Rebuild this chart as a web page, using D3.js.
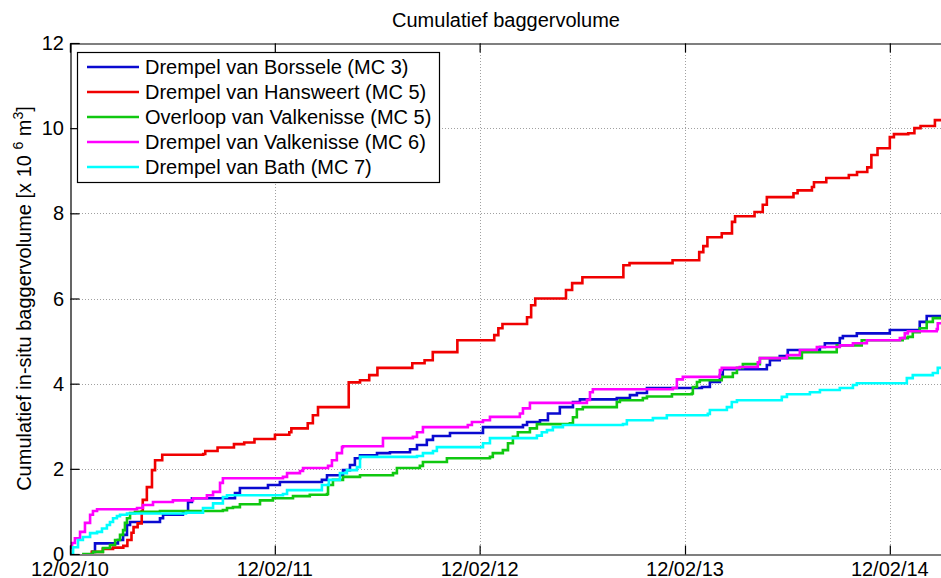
<!DOCTYPE html>
<html lang="nl">
<head>
<meta charset="utf-8">
<title>Cumulatief baggervolume</title>
<script src="https://cdn.jsdelivr.net/npm/d3@7"></script>
<style>
  body { margin: 0; background: #fff; }
  svg { font-family: Arial, "Liberation Sans", sans-serif; }
</style>
</head>
<body>
<script>
// start of the record, tick dates and y ticks
var startDate = new Date(2010, 1, 12);
var xTicks = [new Date(2010, 1, 12), new Date(2011, 1, 12), new Date(2012, 1, 12), new Date(2013, 1, 12), new Date(2014, 1, 12)];
var yTicks = [0, 2, 4, 6, 8, 10, 12];

var names = ["Drempel van Borssele (MC 3)", "Drempel van Hansweert (MC 5)", "Overloop van Valkenisse (MC 5)",
             "Drempel van Valkenisse (MC 6)", "Drempel van Bath (MC 7)"];
var colors = ["#0a0ad0", "#f00000", "#10c810", "#ff00ff", "#00ffff"];

// [years since 12/02/10, cumulative volume x 10^6 m3]
var borssele = [[0.10,0],[0.11,0.05],[0.122,0.25],[0.234,0.33],[0.259,0.45],[0.278,0.68],[0.293,0.75],[0.439,0.84],
  [0.454,0.92],[0.551,0.99],[0.576,1.22],[0.595,1.31],[0.805,1.43],[0.829,1.55],[0.966,1.62],[1.024,1.69],[1.229,1.74],
  [1.254,1.85],[1.332,1.97],[1.366,2.09],[1.39,2.25],[1.415,2.32],[1.498,2.37],[1.561,2.39],[1.659,2.46],[1.693,2.56],
  [1.741,2.68],[1.771,2.77],[1.854,2.84],[2.015,2.98],[2.21,3.03],[2.23,3.10],[2.293,3.14],[2.332,3.3],[2.39,3.45],
  [2.454,3.57],[2.488,3.63],[2.668,3.66],[2.732,3.73],[2.766,3.78],[2.815,3.9],[3.083,3.92],[3.122,4.04],[3.171,4.2],
  [3.185,4.34],[3.40,4.44],[3.415,4.55],[3.463,4.65],[3.502,4.79],[3.659,4.86],[3.683,4.95],[3.756,5.07],[3.771,5.12],
  [3.839,5.18],[4.0,5.26],[4.146,5.45],[4.18,5.59],[4.26,5.61]];
var hansweert = [[0.10,0.05],[0.16,0.12],[0.21,0.15],[0.26,0.19],[0.28,0.33],[0.30,0.5],[0.31,0.63],[0.33,0.72],
  [0.35,1.0],[0.355,1.27],[0.375,1.57],[0.40,1.97],[0.415,2.2],[0.45,2.33],[0.65,2.35],[0.66,2.42],[0.72,2.5],[0.80,2.58],
  [0.85,2.62],[0.90,2.7],[1.0,2.8],[1.07,2.86],[1.08,2.95],[1.16,3.07],[1.185,3.26],[1.21,3.45],[1.36,4.03],[1.415,4.08],
  [1.46,4.2],[1.50,4.37],[1.67,4.48],[1.73,4.55],[1.77,4.74],[1.89,5.02],[2.07,5.14],[2.09,5.3],[2.11,5.4],[2.23,5.56],
  [2.25,5.84],[2.27,6.0],[2.42,6.2],[2.45,6.36],[2.50,6.5],[2.70,6.78],[2.73,6.83],[2.94,6.9],[3.07,7.09],[3.09,7.23],
  [3.11,7.44],[3.18,7.53],[3.23,7.8],[3.245,7.93],[3.34,8.03],[3.38,8.2],[3.40,8.38],[3.53,8.47],[3.55,8.54],[3.62,8.62],
  [3.63,8.73],[3.69,8.83],[3.80,8.9],[3.84,8.97],[3.89,9.08],[3.91,9.37],[3.94,9.53],[4.0,9.79],[4.02,9.86],[4.09,9.88],
  [4.12,10.0],[4.15,10.05],[4.22,10.19],[4.26,10.2]];
var overloop = [[0.059,0],[0.112,0.05],[0.161,0.14],[0.195,0.21],[0.22,0.33],[0.244,0.45],[0.259,0.56],[0.268,0.73],
  [0.278,0.84],[0.293,0.96],[0.317,0.99],[0.439,1.01],[0.746,1.03],[0.766,1.08],[0.795,1.1],[0.829,1.17],[0.927,1.26],
  [0.99,1.31],[1.088,1.36],[1.17,1.39],[1.254,1.41],[1.259,1.62],[1.283,1.74],[1.332,1.81],[1.415,1.85],[1.576,1.9],
  [1.595,2.02],[1.707,2.07],[1.722,2.16],[1.839,2.25],[2.049,2.28],[2.063,2.37],[2.112,2.44],[2.137,2.6],[2.161,2.75],
  [2.185,2.86],[2.244,2.95],[2.278,3.05],[2.439,3.07],[2.454,3.21],[2.473,3.4],[2.502,3.45],[2.668,3.57],[2.683,3.61],
  [2.795,3.66],[2.815,3.7],[2.937,3.75],[3.034,3.77],[3.039,3.92],[3.059,4.04],[3.073,4.08],[3.18,4.16],[3.234,4.25],
  [3.254,4.37],[3.283,4.46],[3.366,4.6],[3.571,4.74],[3.741,4.9],[3.863,5.02],[4.063,5.07],[4.088,5.1],[4.112,5.21],
  [4.146,5.3],[4.18,5.45],[4.21,5.54],[4.26,5.55]];
var valkenisse = [[0.0,0.15],[0.01,0.26],[0.024,0.37],[0.049,0.52],[0.073,0.73],[0.098,0.92],[0.112,1.01],[0.132,1.05],
  [0.327,1.08],[0.356,1.15],[0.405,1.22],[0.502,1.26],[0.6,1.31],[0.668,1.38],[0.698,1.46],[0.732,1.67],[0.746,1.78],
  [1.039,1.81],[1.059,1.9],[1.122,1.95],[1.137,2.02],[1.259,2.07],[1.278,2.2],[1.302,2.37],[1.327,2.51],[1.332,2.53],
  [1.527,2.72],[1.673,2.75],[1.693,2.86],[1.722,2.98],[1.941,3.03],[1.961,3.1],[2.015,3.14],[2.049,3.22],[2.195,3.3],
  [2.21,3.42],[2.244,3.55],[2.522,3.62],[2.537,3.8],[2.551,3.87],[2.941,3.9],[2.961,4.1],[2.99,4.16],[3.171,4.32],
  [3.18,4.37],[3.268,4.39],[3.356,4.5],[3.366,4.6],[3.498,4.67],[3.561,4.79],[3.644,4.86],[3.756,4.9],[3.82,4.95],
  [3.888,5.02],[4.049,5.07],[4.073,5.18],[4.088,5.23],[4.229,5.28],[4.234,5.42],[4.26,5.42]];
var bath = [[0.0,0.0],[0.015,0.16],[0.039,0.33],[0.063,0.40],[0.098,0.49],[0.132,0.52],[0.156,0.6],[0.18,0.68],
  [0.195,0.75],[0.210,0.84],[0.229,0.89],[0.244,0.92],[0.278,0.95],[0.566,0.97],[0.649,1.08],[0.698,1.19],[0.746,1.34],
  [0.766,1.38],[1.039,1.41],[1.059,1.5],[1.229,1.62],[1.263,1.74],[1.317,1.9],[1.351,1.97],[1.4,2.04],[1.415,2.28],
  [1.693,2.3],[1.722,2.37],[1.771,2.42],[1.79,2.51],[2.015,2.6],[2.049,2.72],[2.278,2.78],[2.302,2.86],[2.327,2.91],
  [2.356,2.98],[2.405,3.03],[2.698,3.05],[2.717,3.14],[2.844,3.19],[2.912,3.26],[3.112,3.29],[3.122,3.38],[3.205,3.45],
  [3.229,3.57],[3.254,3.61],[3.473,3.69],[3.498,3.75],[3.61,3.8],[3.659,3.85],[3.756,3.9],[3.82,3.97],[3.839,4.01],
  [4.083,4.13],[4.112,4.2],[4.21,4.25],[4.234,4.37],[4.26,4.37]];
var series = [borssele, hansweert, overloop, valkenisse, bath];

var w = 941, h = 578;
var pLeft = 70, pTop = 43, pRight = 942, pBottom = 554;

var svg = d3.select("body").append("svg").attr("width", w).attr("height", h);

function toDate(t) {
    return new Date(startDate.getTime() + t * 365.25 * 864e5);
}

var x = d3.scaleTime()
    .domain([startDate, new Date(2014, 4, 16)])
    .range([pLeft, pRight]);
var y = d3.scaleLinear().domain([0, 12]).range([pBottom, pTop]);

// grid
var grid = svg.append("g").attr("stroke", "#a0a0a0").attr("stroke-width", 1).attr("stroke-dasharray", "1,2");
grid.selectAll("line.gx").data(xTicks.slice(1)).enter().append("line")
    .attr("x1", function(d) { return Math.round(x(d)) + 0.5; })
    .attr("x2", function(d) { return Math.round(x(d)) + 0.5; })
    .attr("y1", pTop).attr("y2", pBottom);
grid.selectAll("line.gy").data(yTicks.slice(1, -1)).enter().append("line")
    .attr("y1", function(d) { return Math.round(y(d)) + 0.5; })
    .attr("y2", function(d) { return Math.round(y(d)) + 0.5; })
    .attr("x1", pLeft).attr("x2", pRight);

// lines
var line = d3.line()
    .x(function(d) { return x(toDate(d[0])); })
    .y(function(d) { return y(d[1]); })
    .curve(d3.curveStepAfter);

svg.append("clipPath").attr("id", "clip").append("rect")
    .attr("x", pLeft).attr("y", pTop).attr("width", pRight - pLeft).attr("height", pBottom - pTop);

svg.append("g").attr("clip-path", "url(#clip)")
    .selectAll("path").data(series).enter().append("path")
    .attr("d", line)
    .attr("fill", "none")
    .attr("stroke", function(d, i) { return colors[i]; })
    .attr("stroke-width", 2.6)
    .attr("stroke-linejoin", "miter");

// axes (ticks pointing inward, matlab style)
var fmt = d3.timeFormat("%d/%m/%y");
var xAxis = svg.append("g").attr("transform", "translate(0," + (pBottom + 0.5) + ")")
    .call(d3.axisTop(x).tickValues(xTicks).tickSize(9).tickFormat(""));
var xTop = svg.append("g").attr("transform", "translate(0," + (pTop + 0.5) + ")")
    .call(d3.axisBottom(x).tickValues(xTicks).tickSize(9).tickFormat(""));
var yAxis = svg.append("g").attr("transform", "translate(" + (pLeft + 0.5) + ",0)")
    .call(d3.axisRight(y).tickValues(yTicks).tickSize(9).tickFormat(""));
[xAxis, xTop, yAxis].forEach(function(a) {
    a.select(".domain").attr("stroke", "#000").attr("stroke-width", 1.2);
    a.selectAll(".tick line").attr("stroke", "#000").attr("stroke-width", 1.2);
});

svg.append("g").selectAll("text").data(xTicks).enter().append("text")
    .attr("x", function(d) { return x(d); })
    .attr("y", 576)
    .attr("text-anchor", "middle")
    .attr("font-size", "20px")
    .text(function(d) { return fmt(d); });

svg.append("g").selectAll("text").data(yTicks).enter().append("text")
    .attr("x", pLeft - 6)
    .attr("y", function(d) { return y(d) + 7; })
    .attr("text-anchor", "end")
    .attr("font-size", "20px")
    .text(function(d) { return d; });

// title
svg.append("text")
    .attr("x", (pLeft + pRight) / 2).attr("y", 27)
    .attr("text-anchor", "middle")
    .attr("font-size", "20px")
    .text("Cumulatief baggervolume");

// y label
var yl = svg.append("text")
    .attr("transform", "translate(31," + ((pTop + pBottom) / 2) + ") rotate(-90)")
    .attr("text-anchor", "middle")
    .attr("font-size", "20px");
yl.append("tspan").text("Cumulatief in-situ baggervolume [x 10 ");
yl.append("tspan").attr("dy", -8).attr("font-size", "14px").text("6");
yl.append("tspan").attr("dy", 8).text(" m");
yl.append("tspan").attr("dy", -8).attr("font-size", "14px").text("3");
yl.append("tspan").attr("dy", 8).text("]");

// legend
var lg = svg.append("g");
lg.append("rect")
    .attr("x", 77.5).attr("y", 52.5).attr("width", 362).attr("height", 130)
    .attr("fill", "#fff").attr("stroke", "#000").attr("stroke-width", 1.2);
var items = lg.selectAll("g.item").data(names).enter().append("g")
    .attr("transform", function(d, i) { return "translate(0," + (67 + i * 25) + ")"; });
items.append("line")
    .attr("x1", 87).attr("x2", 139)
    .attr("stroke", function(d, i) { return colors[i]; })
    .attr("stroke-width", 2.6);
items.append("text")
    .attr("x", 145).attr("y", 7)
    .attr("font-size", "20px")
    .text(function(d) { return d; });
</script>
</body>
</html>
